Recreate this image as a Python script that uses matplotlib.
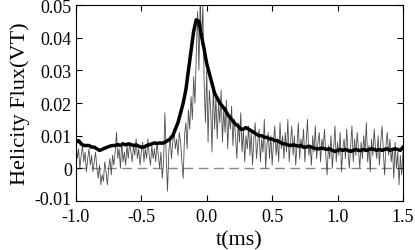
import matplotlib
matplotlib.use('Agg')
import matplotlib.pyplot as plt
import matplotlib.transforms as mtransforms
import numpy as np

plt.rcParams['font.family'] = ['Liberation Serif', 'DejaVu Serif']

# Raw helicity flux, sampled every 0.01 ms (units of 1e-3 VT)
flux_raw_milli = [
    8, 3, 6, 0, 4, 7, 2, 5, -1, 3,
    6, 1, 4, -1, 2, 5, 0, -3, 1, -5,
    -2, -4, 2, -1, -5, 0, 3, -2, 4, 1,
    5, 11, 3, 6, 0, 8, 2, 5, 1, 7,
    3, 8, 5, 2, 7, 4, 9, 3, 6, 1,
    5, 8, 2, 6, 3, 9, 4, 1, 7, 3,
    6, 2, 8, 4, 0, 5, -3, 2, 17, 4,
    -7, 5, 10, 3, 8, 12, 6, 9, 4, 11,
    8, 2, -3, 10, 14, 6, 18, 12, 22, 15,
    28, 20, 35, 48, 30, 52, 38, 50, 26, 14,
    30, 8, 24, 18, 5, 26, 12, 22, 9, 20,
    14, 24, 8, 18, 11, 21, 6, 16, 12, 19,
    7, 15, 10, 3, 14, 8, 17, 5, 12, 2,
    10, 6, 13, 4, 11, 1, 9, 14, 3, 8,
    12, 2, 9, 5, 15, 0, 7, 11, 3, 10,
    1, 8, 13, 4, 9, 2, 14, 6, 10, 3,
    11, 5, 15, 2, 8, 13, 4, 10, 1, 7,
    14, 3, 9, 6, 12, 2, 8, 15, 4, 7,
    1, 10, 5, 13, 3, 8, 11, 2, 9, 6,
    12, 4, -2, 7, 3, 10, 0, 6, 13, 2,
    8, 4, 11, -1, 6, 9, 3, 12, 5, 0,
    7, 13, 2, 9, 4, 11, 6, 0, 8, 3,
    10, 5, 14, 2, 7, -1, 9, 4, 12, 6,
    3, 10, 1, 8, 13, 5, -2, 7, 11, 4,
    9, 2, 6, -3, 8, 0, 5, -5, 4, -2,
    5,
]

# Smoothed helicity flux, sampled every 0.02 ms (units of 1e-3 VT)
flux_smooth_milli = [
    8.0, 8.5, 7.5, 7.0, 7.0, 7.0, 6.5, 6.5, 6.0, 5.5,
    5.8, 6.2, 6.5, 6.8, 7.0, 7.0, 7.3, 7.0, 7.5, 7.2,
    7.5, 7.3, 7.0, 7.2, 6.8, 6.5, 6.5, 7.0, 7.2, 7.5,
    7.8, 7.6, 7.8, 7.7, 8.0, 8.5, 9.0, 10.0, 12.0, 14.0,
    17.0, 20.0, 24.0, 30.0, 36.0, 42.0, 45.5, 45.0, 40.5, 36.5,
    32.0, 29.0, 26.0, 23.0, 21.5, 20.0, 19.0, 18.0, 16.5, 15.5,
    14.5, 13.5, 13.0, 12.0, 12.0, 12.5, 12.0, 11.5, 11.0, 10.5,
    10.0, 10.0, 9.5, 9.5, 9.0, 9.0, 8.5, 8.5, 8.0, 7.5,
    7.5, 7.2, 7.0, 7.2, 7.0, 6.8, 7.0, 6.5, 6.5, 6.8,
    6.5, 6.2, 6.0, 6.0, 6.2, 6.0, 5.8, 6.0, 5.5, 5.2,
    5.5, 5.8, 5.5, 5.8, 5.5, 5.2, 5.5, 5.8, 5.5, 5.5,
    5.8, 5.5, 5.8, 6.0, 5.8, 5.5, 5.8, 5.5, 5.8, 6.0,
    5.5, 5.8, 6.0, 5.8, 5.5, 6.5,
]

t_raw = np.linspace(-1.0, 1.5, len(flux_raw_milli))
t_smooth = np.linspace(-1.0, 1.5, len(flux_smooth_milli))
flux_raw = np.array(flux_raw_milli) * 1e-3
flux_smooth = np.array(flux_smooth_milli) * 1e-3

x_ticks = [-1.0, -0.5, 0.0, 0.5, 1.0, 1.5]
x_labels = ['-1.0', '-0.5', '0.0', '0.5', '1.0', '1.5']
y_ticks = [-0.01, 0, 0.01, 0.02, 0.03, 0.04, 0.05]
y_labels = ['-0.01', '0', '0.01', '0.02', '0.03', '0.04', '0.05']

fig = plt.figure(figsize=(4.15, 2.51), dpi=100)
ax = fig.add_axes([0.183, 0.195, 0.788, 0.781])

ax.axhline(0, color='#888888', lw=1.0, dashes=(7, 4), zorder=1)
ax.plot(t_raw, flux_raw, color='#4d4d4d', lw=0.6, zorder=2)
ax.plot(t_smooth, flux_smooth, color='black', lw=2.5, zorder=3)

ax.set_xlim(-1.0, 1.5)
ax.set_ylim(-0.01, 0.05)
ax.set_xticks(x_ticks)
ax.set_xticklabels(x_labels)
ax.set_yticks(y_ticks)
ax.set_yticklabels(y_labels)
ax.tick_params(direction='in', length=4, width=0.8, labelsize=13,
               top=True, right=True)
ax.tick_params(axis='x', pad=5)
ax.tick_params(axis='y', pad=3)
# nudge the lowest y label up a few pixels so it clears the -1.0 label
lowest = ax.get_yticklabels()[0]
lowest.set_transform(lowest.get_transform() +
                     mtransforms.ScaledTranslation(0, 4 / 100, fig.dpi_scale_trans))
for s in ax.spines.values():
    s.set_linewidth(0.8)

ax.set_xlabel('t(ms)', fontsize=16, labelpad=4)
ax.set_ylabel('Helicity Flux(VT)', fontsize=16, labelpad=3)

fig.savefig('out.png', dpi=100)
